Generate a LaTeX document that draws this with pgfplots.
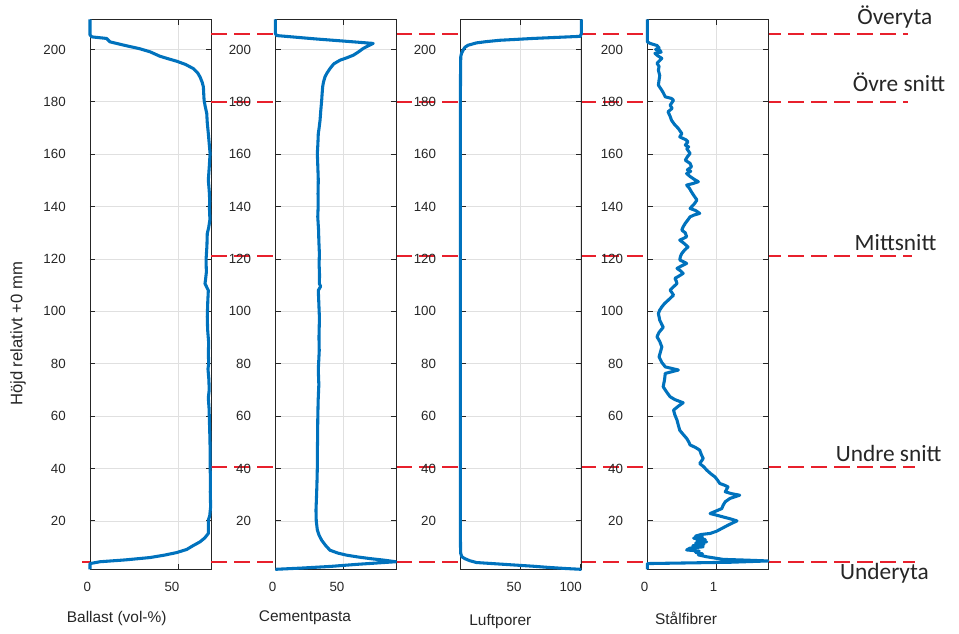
\documentclass[border=0pt]{standalone}
\usepackage{pgfplots}
\pgfplotsset{compat=1.18}
\usepackage{fontspec}
\setmainfont{Liberation Sans}
\newfontfamily\calibri{Carlito}
\definecolor{mblue}{RGB}{0,114,189}
\definecolor{mred}{RGB}{232,32,44}
\definecolor{axgray}{RGB}{38,38,38}
\definecolor{gridgray}{RGB}{224,224,224}
\pgfplotsset{
 panel/.style={
  scale only axis, height=412.5pt, anchor=south west,
  ymin=1.5, ymax=211.5, ytick={20,40,...,200},
  axis line style={axgray, line width=0.6pt},
  tick style={axgray, line width=0.6pt},
  major tick length=4pt,
  tick align=inside,
  grid=major, major grid style={gridgray, line width=0.5pt},
  every tick label/.append style={font=\fontsize{10}{12}\selectfont, text=axgray},
  /pgf/number format/assume math mode=true,
  yticklabel style={anchor=east, inner sep=0pt, xshift=-18pt},
  xticklabel style={anchor=east, inner sep=0pt, yshift=-13pt, xshift=1pt},
  axis background/.style={fill=white},
  clip=false,
 },
 blueline/.style={mblue, line width=2.3pt, line join=round},
 redline/.style={mred, line width=1.5pt, dash pattern=on 12pt off 5.3pt},
}
\newcommand{\xlab}[3]{\node[font=\fontsize{11.6}{13}\selectfont, text=axgray] at ([yshift=#2]axis description cs:#1,0) {#3};}
\begin{document}
\begin{tikzpicture}
\path[use as bounding box] (0,0) rectangle (719.25pt,475.5pt);
% Panel 1: Ballast
\begin{axis}[panel, at={(67.5pt,48.5pt)}, width=91pt, xmin=0, xmax=68.7, xtick={0,50}]
\addplot[redline] coordinates {(68.7,205.8)(463.2,205.8)};
\addplot[redline] coordinates {(68.7,180.1)(463.2,180.1)};
\addplot[redline] coordinates {(68.7,121)(465.5,121)};
\addplot[redline] coordinates {(68.7,40.6)(467.2,40.6)};
\addplot[redline] coordinates {(68.7,4.35)(467.2,4.35)};
\addplot[redline] coordinates {(-4.5,4.35)(0,4.35)};
\addplot[blueline] coordinates {(0,211.5)(0,205.5)(1,204.8)(9.4,204.2)(11.3,202.9)(20,201.5)(28,200.3)(34,199.1)(39.6,197.4)(45,196.3)(49.1,195.5)(54,194.3)(58.5,192.7)(61,191)(62.3,189.5)(63.5,187.5)(64.2,185.7)(64.4,183)(64.6,180.6)(65.3,178)(66.1,175.6)(66.4,172)(67,167.9)(67.5,164)(68,160.3)(67.6,156)(67.3,153)(67,150.1)(67.5,146)(67.8,142)(67.6,139.9)(67.9,135)(67.2,132)(66.4,129.7)(66.2,125)(65.7,119.5)(65.9,115)(65.4,112)(65.1,110.6)(67,108)(66.7,104)(66.4,97.9)(66.6,93)(67.2,88)(67,84)(67.2,80.1)(66.8,78)(67.3,74)(67.5,70)(67,67)(67.4,63)(67.6,58.5)(67.8,54)(68,48)(68,40.6)(68.2,36)(68.1,31)(68.3,25.4)(67.8,22)(67,20.3)(67,17)(67,15.2)(65,13.5)(62.3,12)(58,10.4)(54.8,9.1)(49.1,7.9)(42,6.9)(34,6)(20,5.1)(5.7,4.4)(0,3.7)(0,1.5)};
\xlab{0.22}{-36.5pt}{Ballast (vol-\%)}
\node[font=\fontsize{12.5}{14}\selectfont, text=axgray, rotate=90] at ([xshift=-54pt]axis description cs:0,0.428) {Höjd relativt +0 mm};
\end{axis}
% Panel 2: Cementpasta
\begin{axis}[panel, at={(206.5pt,48.5pt)}, width=90.75pt, xmin=0, xmax=89, xtick={0,50}]
\addplot[blueline] coordinates {(0,211.5)(0,206.1)(1,205.3)(30,204)(55,203)(72,202.3)(68,201.3)(64.7,200.4)(61,199)(57.4,197.8)(52,196.7)(47.6,195.9)(43,194.5)(40.2,192.7)(38,191)(36.5,189.5)(35.4,187.5)(34.8,185.7)(34.4,183)(34.1,180.6)(33.4,176.5)(32.9,173)(32.2,170)(31.6,167.9)(31.3,164)(30.9,160.3)(31.2,156)(31.6,150.1)(31.4,145)(31.5,140)(31.2,136.1)(31.8,131)(32,127)(32.4,122.1)(32.2,118)(32.5,114)(32.4,110.6)(33.3,109.5)(31.6,108)(32,103)(32.4,97.9)(32.4,96.6)(32.1,90)(32.3,85)(31.6,77.6)(32,72)(31.5,66)(31.2,58.5)(31.1,52)(30.9,46)(30.9,40.6)(30.6,34)(30.2,28)(29.9,24.1)(30.1,20)(30.9,16.5)(32.2,14.5)(34.1,12.6)(37,10.6)(40.2,8.8)(46,7.7)(52.5,6.9)(61,6.2)(69.6,5.6)(80,5)(88.5,4.4)(60,3.4)(40.2,2.6)(20,2)(0,1.5)};
\xlab{0.245}{-36.5pt}{Cementpasta}
\end{axis}
% Panel 3: Luftporer
\begin{axis}[panel, at={(345.2pt,48.5pt)}, width=91pt, xmin=0.2, xmax=100.7, xtick={50,100}]
\addplot[blueline] coordinates {(100.5,211.5)(100.5,206.1)(99.6,205)(80,204.6)(60.4,204.2)(45,203.8)(32.9,203.5)(22,203)(13.6,202.5)(6.6,201.6)(4,200.8)(2.5,199.7)(1.2,198.5)(0.6,197.2)(0.4,190)(0.3,180)(0.3,150)(0.3,100)(0.3,50)(0.3,15)(0.4,10)(0.6,7.5)(1.5,6.3)(3.9,5.6)(8,4.8)(13.6,4.1)(30,3.6)(46.7,3.1)(60,2.7)(74.3,2.2)(88,1.8)(100.5,1.5)};
\xlab{0.33}{-39pt}{Luftporer}
\end{axis}
% Panel 4: Stalfibrer
\begin{axis}[panel, at={(485.5pt,48.5pt)}, width=90.75pt, xmin=0, xmax=1.755, xtick={0,1}]
\addplot[blueline] coordinates {(0,211.5)(0,205)(0,202.9)(0.04,202.3)(0.14,201.5)(0.17,200.6)(0.12,200)(0.18,199.7)(0.2,199)(0.11,198.5)(0.15,197.6)(0.21,196.6)(0.18,195.8)(0.14,194.7)(0.17,193.5)(0.16,192.1)(0.18,190)(0.17,188.3)(0.16,186.4)(0.21,184.4)(0.23,183.5)(0.26,181.9)(0.35,181.3)(0.38,180.6)(0.33,178.7)(0.36,177.5)(0.30,176.2)(0.33,174.5)(0.35,173)(0.39,171.5)(0.45,169.8)(0.50,167.9)(0.47,166.6)(0.56,165.5)(0.59,164.7)(0.55,163.5)(0.60,162.8)(0.57,162.2)(0.62,160.3)(0.58,159)(0.55,157.7)(0.62,156.5)(0.64,155.2)(0.58,154)(0.63,153.5)(0.57,152.6)(0.62,151.5)(0.68,150.4)(0.74,149.5)(0.66,148.8)(0.57,148.2)(0.61,147)(0.64,145.6)(0.68,144)(0.72,142.5)(0.68,141)(0.62,139.3)(0.70,138.5)(0.76,137.4)(0.68,136.8)(0.62,136.1)(0.59,135)(0.55,133.6)(0.52,132.3)(0.50,131)(0.55,130)(0.57,128.5)(0.52,127.8)(0.47,127.2)(0.53,126)(0.59,124.6)(0.54,123.4)(0.50,122.1)(0.48,121)(0.47,119.6)(0.52,119)(0.57,118.3)(0.50,117.4)(0.43,116.4)(0.48,115.5)(0.52,114.5)(0.46,113.5)(0.40,112.6)(0.42,111.5)(0.43,110.6)(0.38,109.4)(0.33,108.1)(0.36,107)(0.38,106.2)(0.34,105.2)(0.30,104.2)(0.25,103)(0.21,101.7)(0.18,100.5)(0.16,99.2)(0.18,96.6)(0.23,93.9)(0.17,92)(0.14,90.3)(0.18,88.5)(0.21,86.4)(0.19,84.5)(0.17,82.6)(0.21,80.5)(0.26,78.8)(0.45,77.6)(0.26,76.3)(0.25,74)(0.23,71.2)(0.28,69.2)(0.33,67.4)(0.40,66.3)(0.52,65.1)(0.45,63.8)(0.38,62.3)(0.40,60.4)(0.43,58.5)(0.45,56.5)(0.47,54.6)(0.52,53)(0.57,51.5)(0.60,50.2)(0.62,49)(0.70,48)(0.76,47)(0.78,45.5)(0.81,43.8)(0.76,41.9)(0.82,40.6)(0.86,39.4)(0.92,38)(0.98,36.8)(1.02,35.5)(1.05,34.3)(1.12,33.6)(1.17,33)(1.13,31.1)(1.22,30.4)(1.34,29.8)(1.2,28.6)(1.13,27.3)(1.1,26)(1.08,24.7)(1.0,23.8)(0.91,22.8)(1.0,22.2)(1.10,21.5)(1.2,20.8)(1.30,20)(1.18,18.5)(1.08,17.1)(1.0,16)(0.91,15.2)(0.78,14.8)(0.70,14.2)(0.80,13.8)(0.67,13.4)(0.84,12.9)(0.72,12.4)(0.86,12.0)(0.70,11.5)(0.82,11.0)(0.66,10.5)(0.81,10.1)(0.62,9.6)(0.57,8.9)(0.75,8.5)(0.70,8.0)(0.80,7.4)(0.74,7.0)(0.86,6.3)(1.1,5.3)(1.45,5)(1.75,4.7)(1.2,4.2)(0,3.7)(0,1.5)};
\xlab{0.32}{-36.5pt}{Stålfibrer}
\begin{scope}[every node/.style={font=\calibri\fontsize{17.5}{20}\selectfont, text=axgray}]
\node at (axis cs:3.59,212.3) {Överyta};
\node at (axis cs:3.65,187.5) {Övre snitt};
\node at (axis cs:3.60,126.4) {Mittsnitt};
\node at (axis cs:3.50,45.8) {Undre snitt};
\node at (axis cs:3.44,0) {Underyta};
\end{scope}
\end{axis}
\end{tikzpicture}
\end{document}
